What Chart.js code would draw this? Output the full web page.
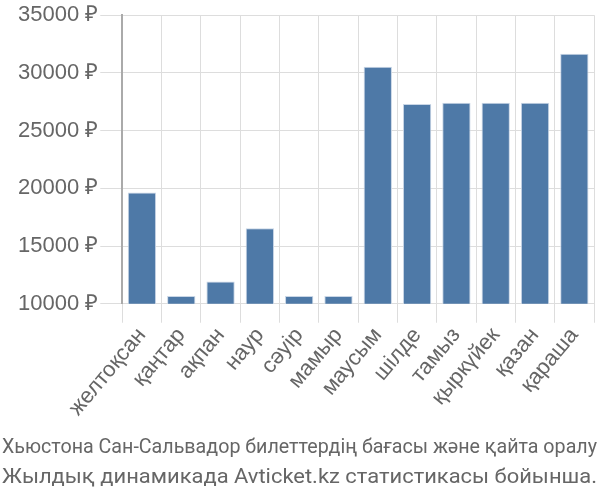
<!DOCTYPE html>
<html><head><meta charset="utf-8">
<script src="https://cdn.jsdelivr.net/npm/chart.js@4"></script>
<style>
html,body{margin:0;padding:0;background:#fff;}
#wrap{width:600px;height:500px;position:relative;overflow:hidden;}
#cap{position:absolute;left:2px;top:431px;font-family:Roboto,'Liberation Sans',sans-serif;font-size:21px;line-height:30px;color:#666;}
#cap div{white-space:nowrap;transform-origin:0 0;display:block;width:max-content;}
</style>
</head><body><div id="wrap"><canvas id="c" width="600" height="500"></canvas>
<div id="cap"></div></div>
<script>
const categories = ["желтоқсан","қаңтар","ақпан","наур","сәуір","мамыр","маусым","шілде","тамыз","қыркүйек","қазан","қараша"];
const prices = [19630,10660,11920,16530,10660,10660,30540,27300,27410,27410,27410,31660];
const captionLines = ["Хьюстона Сан-Сальвадор билеттердің бағасы және қайта оралу","Жылдық динамикада Avticket.kz статистикасы бойынша."];
const currency = " ₽";

const cap = document.getElementById('cap');
captionLines.forEach(t => {
  const d = document.createElement('div');
  d.textContent = t;
  cap.appendChild(d);
  const w = d.getBoundingClientRect().width;
  d.style.transform = 'scaleX(' + (595 / w) + ')';
});

new Chart(document.getElementById('c'), {
  type: 'bar',
  data: { labels: categories, datasets: [{ data: prices, backgroundColor: '#4e79a7', borderColor: '#c9d6e6', borderWidth: 1 }] },
  options: {
    responsive: false, animation: false,
    layout: { padding: { left: 16, right: 6, top: 4, bottom: 79 } },
    plugins: { legend: { display: false }, tooltip: { enabled: false } },
    scales: {
      x: {
        grid: { color: '#ddd', tickLength: 19, offset: true },
        border: { color: '#ddd' },
        ticks: { color: '#666', font: { family: 'Liberation Sans', size: 22 }, minRotation: 50, maxRotation: 50, padding: 0 }
      },
      y: {
        min: 10000, max: 35000,
        grid: { color: '#ddd', tickLength: 22 },
        border: { color: '#aaa', width: 2 },
        ticks: { stepSize: 5000, color: '#666', font: { family: 'Liberation Sans', size: 22 }, padding: 2, callback: v => v + currency }
      }
    }
  }
});
</script></body></html>
